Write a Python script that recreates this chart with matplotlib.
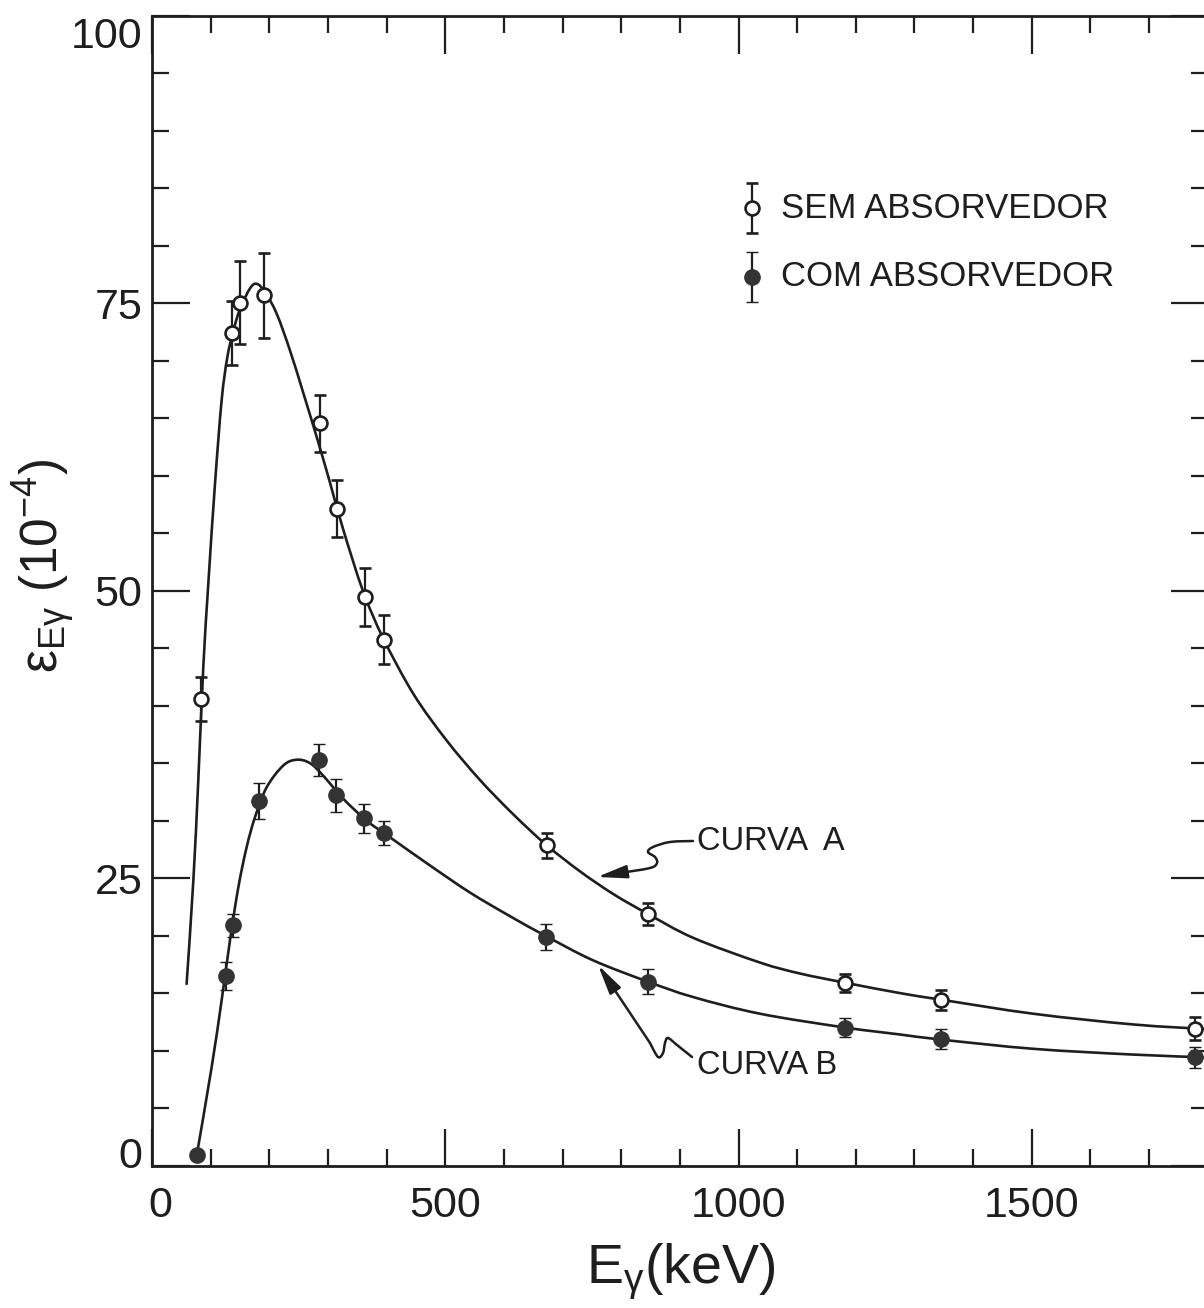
import matplotlib
matplotlib.use("Agg")
import matplotlib.pyplot as plt
from matplotlib.ticker import MultipleLocator
from matplotlib.transforms import ScaledTranslation
from matplotlib.path import Path
from matplotlib.patches import PathPatch

plt.rcParams['font.family'] = ['Liberation Sans', 'DejaVu Sans']
plt.rcParams['mathtext.fontset'] = 'custom'
plt.rcParams['mathtext.rm'] = 'Liberation Sans'
plt.rcParams['mathtext.it'] = 'Liberation Sans:italic'
plt.rcParams['mathtext.bf'] = 'Liberation Sans:bold'

# ---------------- data ----------------
# open circles: "SEM ABSORVEDOR"
sem_x = [84, 136, 150, 191, 286, 315, 363, 396, 673, 845, 1182, 1346, 1778]
sem_y = [40.6, 72.4, 75.05, 75.7, 64.55, 57.15, 49.46, 45.75, 27.85, 21.9, 15.87, 14.36, 11.9]
sem_err = [1.9, 2.8, 3.6, 3.7, 2.5, 2.5, 2.5, 2.1, 1.1, 0.95, 0.8, 0.87, 1.0]

# filled circles: "COM ABSORVEDOR"
com_x = [76, 127, 138, 183, 284, 313, 362, 396, 672, 845, 1182, 1346, 1778]
com_y = [0.87, 16.5, 20.9, 31.7, 35.3, 32.2, 30.2, 28.9, 19.87, 16.0, 12.0, 11.0, 9.4]
com_err = [0.0, 1.2, 1.0, 1.57, 1.38, 1.42, 1.26, 1.05, 1.16, 1.1, 0.85, 0.9, 0.9]

# fitted curve A
curve_a_x = [59, 70.5, 79, 87.5, 96, 107.4, 118.8, 128.4, 138.6, 150, 167.1, 178.5,
             192.7, 212.6, 235.3, 258, 283.6, 303.5, 326.2, 360.3, 394.4, 446, 502,
             559, 616, 672, 730, 787, 845, 923, 1037, 1105, 1182, 1275, 1346,
             1503, 1673, 1800]
curve_a_y = [15.8, 24.8, 33.6, 43.4, 50.6, 59.3, 66.6, 70.3, 72.6, 74.5, 76.3, 76.7,
             76.0, 74.1, 70.9, 67.2, 62.9, 59.4, 55.3, 49.9, 45.85, 41.0, 37.0,
             33.55, 30.55, 27.9, 25.58, 23.6, 21.9, 19.8, 17.65, 16.7, 15.9, 15.0, 14.42,
             13.2, 12.27, 11.86]

# fitted curve B
curve_b_x = [76.2, 101.7, 118.8, 133, 147.2, 161.4, 175.6, 195.5, 223.9, 246.7,
             269.4, 292.1, 326.2, 366, 405.8, 474, 542, 610, 672, 752, 845, 923, 1037,
             1182, 1275, 1346, 1503, 1673, 1800]
curve_b_y = [0.87, 8.55, 14.4, 19.6, 24.2, 27.7, 30.3, 32.9, 34.8, 35.3,
             35.0, 33.9, 31.9, 30.0, 28.55, 26.1, 23.75, 21.7, 19.95, 17.85, 16.0, 14.65,
             13.2, 12.0, 11.4, 10.95, 10.15, 9.65, 9.4]

x_ticks = [0, 500, 1000, 1500]
y_ticks = [0, 25, 50, 75, 100]

label_sem = "SEM ABSORVEDOR"
label_com = "COM ABSORVEDOR"
label_a = "CURVA  A"
label_b = "CURVA B"

# ---------------- layout / style ----------------
INK = "#1e1e1e"
FILL = "#333333"
W, H = 1204, 1308
X0_PX, XS_PX = 152.0, 0.5865     # pixel of x=0, pixels per keV
Y0_PX, YS_PX = 1165.5, 11.495    # pixel of y=0, pixels per unit


def px(xp, yp):
    """reference-pixel position -> data coordinates (layout helper)"""
    return (xp - X0_PX) / XS_PX, (Y0_PX - yp) / YS_PX


def smooth_path(xs, ys):
    """Catmull-Rom curve through the given points, as cubic Bezier path."""
    pts = list(zip(xs, ys))
    n = len(pts)
    verts = [pts[0]]
    codes = [Path.MOVETO]
    for i in range(n - 1):
        p0 = pts[i - 1] if i > 0 else pts[i]
        p1 = pts[i]
        p2 = pts[i + 1]
        p3 = pts[i + 2] if i + 2 < n else pts[i + 1]
        c1 = (p1[0] + (p2[0] - p0[0]) / 6, p1[1] + (p2[1] - p0[1]) / 6)
        c2 = (p2[0] - (p3[0] - p1[0]) / 6, p2[1] - (p3[1] - p1[1]) / 6)
        verts += [c1, c2, p2]
        codes += [Path.CURVE4] * 3
    return Path(verts, codes)


fig = plt.figure(figsize=(W / 100, H / 100), dpi=100)
left = X0_PX / W
bottom = (H - Y0_PX) / H
width = (1800 * XS_PX) / W
height = (100 * YS_PX) / H
ax = fig.add_axes([left, bottom, width, height])
ax.set_xlim(0, 1800)
ax.set_ylim(0, 100)

for s in ax.spines.values():
    s.set_linewidth(2.0)
    s.set_color(INK)

# curves
for cx, cy in ((curve_a_x, curve_a_y), (curve_b_x, curve_b_y)):
    ax.add_patch(PathPatch(smooth_path(cx, cy), fill=False, edgecolor=INK, lw=1.9,
                           capstyle='round', joinstyle='round', zorder=2))

# data points
eb_kw = dict(fmt='o', ecolor=INK, elinewidth=1.6, capsize=4.6, capthick=1.9, zorder=3,
             clip_on=False)
ax.errorbar(sem_x, sem_y, yerr=sem_err, ms=10, mfc='white', mec=INK, mew=1.9, **eb_kw)
ax.errorbar(com_x, com_y, yerr=com_err, ms=11, mfc=FILL, mec=FILL, mew=1.0, **eb_kw)

# legend (hand-drawn like the original)
lx, ly1 = px(752, 208)
_, ly2 = px(752, 277)
lerr = 25 / YS_PX
ax.errorbar([lx], [ly1], yerr=[lerr], ms=10, mfc='white', mec=INK, mew=1.9, **eb_kw)
ax.errorbar([lx], [ly2], yerr=[lerr], ms=11, mfc=FILL, mec=FILL, mew=1.0, **eb_kw)
tx, _ = px(781, 0)
ax.text(tx, ly1, label_sem, fontsize=25, color=INK, ha='left', va='center')
ax.text(tx, ly2, label_com, fontsize=25, color=INK, ha='left', va='center')

# curve annotations with wavy leaders
lead_a = [(693, 841), (670, 842), (653, 847), (648, 852), (655, 857), (657, 863),
          (650, 868), (620, 873), (597, 877)]
lead_b = [(692, 1057), (677, 1045), (668, 1038), (665, 1043), (663, 1053), (658, 1057),
          (650, 1043), (598, 965)]
for lead in (lead_a, lead_b):
    pts = [px(*p) for p in lead]
    ax.add_patch(PathPatch(smooth_path([p[0] for p in pts[:-1]], [p[1] for p in pts[:-1]]),
                           fill=False, edgecolor=INK, lw=1.8, capstyle='round',
                           joinstyle='round', zorder=2))
    ax.annotate('', xy=pts[-1], xytext=pts[-2],
                arrowprops=dict(arrowstyle='-|>,head_length=1.0,head_width=0.22',
                                color=INK, lw=1.8, shrinkA=0, shrinkB=0,
                                mutation_scale=18))
ax.text(*px(697, 841), label_a, fontsize=23.5, color=INK, ha='left', va='center')
ax.text(*px(697, 1066), label_b, fontsize=23.5, color=INK, ha='left', va='center')

# ticks
ax.set_xticks(x_ticks)
ax.set_yticks(y_ticks)
ax.xaxis.set_minor_locator(MultipleLocator(100))
ax.yaxis.set_minor_locator(MultipleLocator(5))
ax.tick_params(which='both', direction='in', top=True, right=True, width=1.6,
               color=INK, labelcolor=INK, labelsize=31)
ax.tick_params(which='major', length=27)
ax.tick_params(which='minor', length=12)
ax.tick_params(axis='x', pad=15)
ax.tick_params(axis='y', pad=7)

# small shifts of end labels, as in the original
for loc, t in zip(ax.xaxis.get_majorticklocs(), ax.xaxis.get_major_ticks()):
    if loc == 0:
        t.label1.set_transform(t.label1.get_transform() +
                               ScaledTranslation(8 / 100, 0, fig.dpi_scale_trans))
for loc, t in zip(ax.yaxis.get_majorticklocs(), ax.yaxis.get_major_ticks()):
    if loc == 100:
        t.label1.set_transform(t.label1.get_transform() +
                               ScaledTranslation(0, -17 / 100, fig.dpi_scale_trans))
    if loc == 0:
        t.label1.set_transform(t.label1.get_transform() +
                               ScaledTranslation(0, 13 / 100, fig.dpi_scale_trans))

# axis labels
fig.text(681 / W, 1 - 1272 / H, r'E$_{\mathrm{\gamma}}$(keV)', fontsize=40,
         color=INK, ha='center', va='center')
fig.text(44 / W, 1 - 566 / H, r'$\mathrm{\varepsilon_{E\gamma}\ (10^{-4})}$',
         fontsize=37, color=INK, rotation=90, ha='center', va='center')

fig.savefig('out.png', dpi=100)
